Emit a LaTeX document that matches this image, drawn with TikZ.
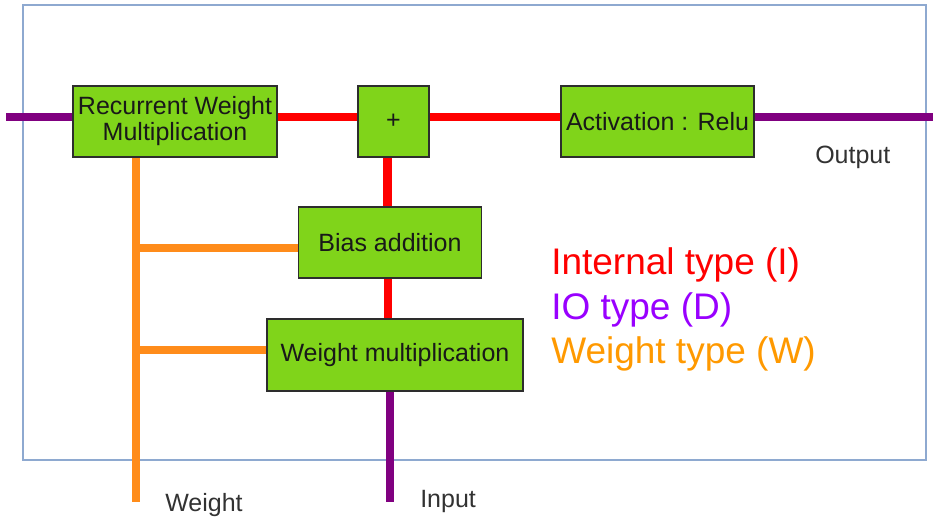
\documentclass[tikz,border=0pt]{standalone}
\usepackage{fontspec}
\setmainfont{Liberation Sans}
\usetikzlibrary{backgrounds}
\definecolor{framec}{RGB}{142,169,208}
\definecolor{boxfill}{RGB}{128,212,26}
\definecolor{boxline}{RGB}{45,45,45}
\definecolor{ioline}{RGB}{128,0,128}
\definecolor{intline}{RGB}{255,0,0}
\definecolor{wline}{RGB}{255,140,26}
\definecolor{legD}{RGB}{153,0,255}
\definecolor{legW}{RGB}{255,153,0}
\definecolor{labc}{RGB}{50,50,50}
\tikzset{
  blk/.style={draw=boxline, fill=boxfill, line width=1.1pt, inner sep=0pt, align=center,
    font=\fontsize{18.75pt}{19.5pt}\selectfont, text=black!90},
  ioc/.style={draw=ioline, line width=6pt},
  intc/.style={draw=intline, line width=6.5pt},
  wc/.style={draw=wline, line width=6pt},
  lab/.style={anchor=base west, inner sep=0pt, text=labc, font=\fontsize{18.75pt}{20pt}\selectfont},
  leg/.style={anchor=base west, inner sep=0pt, font=\fontsize{27.75pt}{30pt}\selectfont},
}
\begin{document}
\begin{tikzpicture}[x=0.75pt,y=-0.75pt]
\useasboundingbox (0,0) rectangle (933,520);
% coordinates
\coordinate (ly) at (0,117);
\coordinate (inL) at (6,117);
\coordinate (outR) at (933,117);
\coordinate (wbot) at (136,502);
\coordinate (ibot) at (390,502);
\coordinate (jb) at (133,248);
\coordinate (jw) at (133,350);
% boxes
\node[blk, minimum width=153pt, minimum height=53pt] (rwm) at (175,121.5) {Recurrent Weight\\Multiplication};
\node[blk, minimum width=53pt, minimum height=53pt] (plus) at (393.5,121.5) {+};
\node[blk, minimum width=145pt, minimum height=53pt] (act) at (657.5,121.5) {Activation : Relu};
\node[blk, minimum width=137pt, minimum height=53pt] (bias) at (390,242.5) {Bias addition};
\node[blk, minimum width=192pt, minimum height=54pt] (wm) at (395,355) {Weight multiplication};
\begin{scope}[on background layer]
\draw[framec, line width=1.2pt] (23,5) rectangle (926,460);
% IO lines
\draw[ioc] (inL) -- (rwm.west |- ly);
\draw[ioc] (act.east |- ly) -- (outR);
\draw[ioc] (ibot) -- (ibot |- wm.south);
% internal lines
\draw[intc] (rwm.east |- ly) -- (plus.west |- ly);
\draw[intc] (plus.east |- ly) -- (act.west |- ly);
\draw[intc] ([xshift=-4.5pt]plus.south) -- ([xshift=-4.5pt]plus.south |- bias.north);
\draw[intc] ([xshift=-1.5pt]bias.south) -- ([xshift=-1.5pt]bias.south |- wm.north);
% weight lines
\draw[wc] (wbot) -- (wbot |- rwm.south);
\draw[wc] (jb) -- (bias.west |- jb);
\draw[wc] (jw) -- (wm.west |- jw);
\end{scope}
% labels
\node[lab] (lw) at (165,512) {Weight};
\node[lab] (li) at (420,508) {Input};
\node[lab] (lo) at (815,164) {Output};
% legend
\node[leg, text=intline] (l1) at (551,275) {Internal type (I)};
\node[leg, text=legD] (l2) at (551,320) {IO type (D)};
\node[leg, text=legW] (l3) at (551,364) {Weight type (W)};
\end{tikzpicture}
\end{document}
